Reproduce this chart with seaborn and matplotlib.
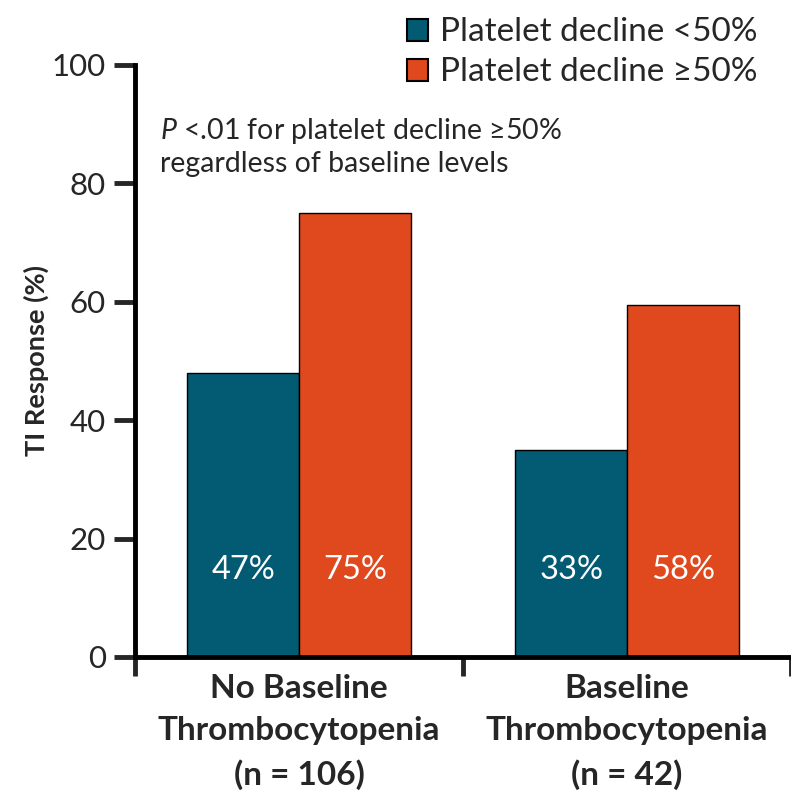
import matplotlib
matplotlib.use("Agg")
import matplotlib.pyplot as plt
import seaborn as sns
import pandas as pd
from matplotlib.patches import Patch

categories = ["No Baseline\nThrombocytopenia\n(n = 106)", "Baseline\nThrombocytopenia\n(n = 42)"]
series = ["Platelet decline <50%", "Platelet decline \u226550%"]
values_lt50 = [48.0, 35.0]
values_ge50 = [75.0, 59.5]
labels_lt50 = ["47%", "33%"]
labels_ge50 = ["75%", "58%"]
yticks = [0, 20, 40, 60, 80, 100]

colors = ["#025A73", "#E0481D"]

sns.set_style("white")
plt.rcParams["font.family"] = ["Lato", "DejaVu Sans"]
plt.rcParams["mathtext.fontset"] = "custom"
plt.rcParams["mathtext.it"] = "Lato:italic"
plt.rcParams["mathtext.rm"] = "Lato"

df = pd.DataFrame({
    "cat": categories * 2,
    "series": [series[0]] * 2 + [series[1]] * 2,
    "val": values_lt50 + values_ge50,
})

fig = plt.figure(figsize=(7.91, 7.92), dpi=100)
ax = fig.add_axes([135 / 791, 135 / 792, 656 / 791, 592 / 792])

sns.barplot(data=df, x="cat", y="val", hue="series", palette=colors, saturation=1,
            width=0.68, edgecolor="black", linewidth=1.0, ax=ax, legend=False)

ax.set_ylim(0, 100)
ax.set_xlim(-0.5, 1.5)
ax.set_yticks(yticks)
ax.set_yticklabels([str(t) for t in yticks], fontsize=22.5)
ax.set_ylabel("TI Response (%)", fontsize=19.5, fontweight="bold", labelpad=2)
ax.set_xlabel("")
ax.set_xticks([0, 1])
ax.set_xticklabels(categories, fontsize=24, fontweight="bold", linespacing=1.55)
ax.set_xticks([-0.5, 0.5, 1.5], minor=True)
ax.tick_params(axis="x", which="major", bottom=True, length=0, pad=12)
ax.tick_params(axis="x", which="minor", bottom=True, length=14, width=3.5, direction="out")
ax.tick_params(axis="y", left=True, length=15, width=3.5, direction="out", pad=6)

for s in ["top", "right"]:
    ax.spines[s].set_visible(False)
for s in ["left", "bottom"]:
    ax.spines[s].set_linewidth(3.5)
    ax.spines[s].set_color("black")

off = 0.17
for i in range(len(categories)):
    ax.text(i - off, 14.7, labels_lt50[i], color="white", fontsize=23.5, ha="center", va="center")
    ax.text(i + off, 14.7, labels_ge50[i], color="white", fontsize=23.5, ha="center", va="center")

ax.text(0.038, 0.888, "$\\mathit{P}$ <.01 for platelet decline \u226550%", fontsize=20.5,
        transform=ax.transAxes, va="center")
ax.text(0.038, 0.833, "regardless of baseline levels", fontsize=20.5,
        transform=ax.transAxes, va="center")

handles = [Patch(facecolor=c, edgecolor="black", linewidth=1.5) for c in colors]
fig.legend(handles, series, loc="upper left", bbox_to_anchor=(390 / 791, 0.999),
           frameon=False, fontsize=24, handlelength=0.65, handleheight=0.65,
           handletextpad=0.35, labelspacing=0.3, borderaxespad=0.1)

fig.savefig("out.png", dpi=100)
